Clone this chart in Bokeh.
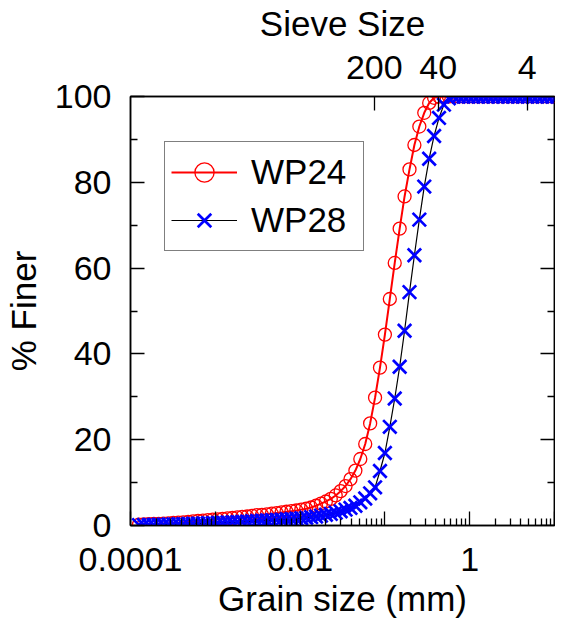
from bokeh.plotting import figure
from bokeh.models import (LogAxis, LinearAxis, FixedTicker, Legend, LegendItem,
                          CustomLabelingPolicy)
from bokeh.embed import file_html
from bokeh.resources import INLINE

# ---- data ----
grain_size_mm = [
    1.259e-04, 1.439e-04, 1.644e-04, 1.879e-04, 2.148e-04, 2.455e-04, 2.805e-04, 3.206e-04,
    3.664e-04, 4.188e-04, 4.786e-04, 5.470e-04, 6.252e-04, 7.145e-04, 8.166e-04, 9.333e-04,
    1.067e-03, 1.219e-03, 1.393e-03, 1.592e-03, 1.820e-03, 2.080e-03, 2.377e-03, 2.716e-03,
    3.105e-03, 3.548e-03, 4.055e-03, 4.634e-03, 5.297e-03, 6.053e-03, 6.918e-03, 7.907e-03,
    9.036e-03, 1.033e-02, 1.180e-02, 1.349e-02, 1.542e-02, 1.762e-02, 2.014e-02, 2.301e-02,
    2.630e-02, 3.006e-02, 3.436e-02, 3.926e-02, 4.487e-02, 5.129e-02, 5.861e-02, 6.699e-02,
    7.656e-02, 8.750e-02, 1.000e-01, 1.143e-01, 1.306e-01, 1.493e-01, 1.706e-01, 1.950e-01,
    2.228e-01, 2.547e-01, 2.911e-01, 3.327e-01, 3.802e-01, 4.345e-01, 4.966e-01, 5.675e-01,
    6.486e-01, 7.413e-01, 8.472e-01, 9.683e-01, 1.107e+00, 1.265e+00, 1.445e+00, 1.652e+00,
    1.888e+00, 2.158e+00, 2.466e+00, 2.818e+00, 3.221e+00, 3.681e+00, 4.207e+00, 4.808e+00,
    5.495e+00, 6.281e+00, 7.178e+00, 8.204e+00, 9.376e+00, 1.072e+01,
]

wp24_finer = [
    0.2, 0.25, 0.3, 0.35, 0.4, 0.45, 0.5, 0.6, 0.65, 0.75, 0.85, 0.95, 1.05, 1.15, 1.25, 1.35,
    1.45, 1.55, 1.65, 1.75, 1.9, 2.0, 2.1, 2.25, 2.4, 2.5, 2.6, 2.75, 2.9, 3.05, 3.2, 3.35,
    3.5, 3.7, 3.9, 4.2, 4.6, 5.1, 5.6, 6.2, 7.0, 8.0, 9.2, 10.8, 12.8, 15.5, 19.0, 23.8,
    29.8, 36.8, 44.5, 52.8, 61.2, 69.2, 76.7, 83.0, 88.7, 93.0, 96.2, 98.5, 99.7, 100, 100, 100,
    100, 100, 100, 100, 100, 100, 100, 100, 100, 100, 100, 100, 100, 100, 100, 100,
    100, 100, 100, 100, 100, 100,
]

wp28_finer = [
    0.1, 0.12, 0.14, 0.16, 0.18, 0.2, 0.23, 0.26, 0.29, 0.32, 0.36, 0.4, 0.44, 0.48, 0.52, 0.56,
    0.6, 0.65, 0.7, 0.75, 0.8, 0.86, 0.92, 0.98, 1.04, 1.1, 1.17, 1.24, 1.31, 1.38, 1.45, 1.52,
    1.6, 1.7, 1.8, 1.95, 2.1, 2.3, 2.5, 2.7, 3.0, 3.3, 3.7, 4.1, 4.6, 5.4, 6.3, 7.5,
    8.9, 12.7, 16.9, 23.0, 29.6, 37.0, 45.4, 54.4, 63.0, 71.3, 79.0, 85.5, 90.8, 95.0, 98.1, 99.6,
    100, 100, 100, 100, 100, 100, 100, 100, 100, 100, 100, 100, 100, 100, 100, 100,
    100, 100, 100, 100, 100, 100,
]

series_names = ["WP24", "WP28"]

x_major_ticks = [1e-4, 1e-3, 1e-2, 1e-1, 1, 10]
x_tick_labels = ["0.0001", "", "0.01", "", "1", ""]
sieve_sizes_mm = [0.075, 0.425, 4.75]
sieve_labels = ["200", "40", "4"]
y_major_ticks = [0, 20, 40, 60, 80, 100]
y_minor_ticks = [10, 30, 50, 70, 90]

x_title = "Grain size (mm)"
y_title = "% Finer"
top_title = "Sieve Size"

FONT = "Liberation Sans"
X_LO, X_HI = 1e-4, 10

p = figure(width=555, height=620, x_axis_type="log",
           x_range=(X_LO, X_HI), y_range=(0, 100),
           output_backend="svg", toolbar_location=None,
           min_border_left=130, min_border_right=1,
           min_border_top=93, min_border_bottom=95)
p.xgrid.visible = False
p.ygrid.visible = False
p.outline_line_color = "black"
p.outline_line_width = 1.5
p.background_fill_color = "white"
p.border_fill_color = "white"

x_minor = [m * d for d in [1e-4, 1e-3, 1e-2, 1e-1, 1] for m in range(2, 10)]

# drop labels that are empty (unlabelled major ticks)
hide_empty = CustomLabelingPolicy(code="""
const keep = []
for (const i of indices) {
  if (bboxes[i].width > 0.5) keep.push(i)
}
return keep
""")


def style_axis(ax):
    ax.axis_line_color = "black"
    ax.axis_line_width = 1.5
    ax.major_tick_in = 14
    ax.major_tick_out = 0
    ax.minor_tick_in = 7
    ax.minor_tick_out = 0
    ax.major_tick_line_color = "black"
    ax.minor_tick_line_color = "black"
    ax.major_tick_line_width = 1.3
    ax.minor_tick_line_width = 1.3
    ax.major_label_text_font = FONT
    ax.major_label_text_font_size = "34px"
    ax.major_label_text_color = "black"
    ax.axis_label_text_font = FONT
    ax.axis_label_text_font_size = "35px"
    ax.axis_label_text_font_style = "normal"
    ax.axis_label_text_color = "black"


# bottom axis
xb = p.xaxis[0]
xb.ticker = FixedTicker(ticks=x_major_ticks, minor_ticks=x_minor)
xb.major_label_overrides = dict(zip(x_major_ticks, x_tick_labels))
xb.major_label_policy = hide_empty
xb.axis_label = x_title
style_axis(xb)
xb.major_label_standoff = 22
xb.axis_label_standoff = 5

# left axis
yl = p.yaxis[0]
yl.ticker = FixedTicker(ticks=y_major_ticks, minor_ticks=y_minor_ticks)
yl.axis_label = y_title
style_axis(yl)
yl.major_label_standoff = 19
yl.axis_label_standoff = 9

# top axis (sieve numbers)
xt = LogAxis(ticker=FixedTicker(ticks=sieve_sizes_mm, minor_ticks=[]))
xt.major_label_overrides = dict(zip(sieve_sizes_mm, sieve_labels))
xt.axis_label = top_title
style_axis(xt)
xt.major_label_standoff = 18
xt.axis_label_standoff = 10
p.add_layout(xt, "above")

# right axis (ticks only)
yr = LinearAxis(ticker=FixedTicker(ticks=y_major_ticks, minor_ticks=y_minor_ticks),
                fixed_location=X_HI)
style_axis(yr)
yr.major_label_overrides = {t: "" for t in y_major_ticks}
yr.major_label_policy = CustomLabelingPolicy(code="return []")
p.add_layout(yr, "right")

# data
r24_line = p.line(grain_size_mm, wp24_finer, line_color="red", line_width=2)
r24_pts = p.scatter(grain_size_mm, wp24_finer, marker="circle", size=13,
                    fill_color=None, line_color="red", line_width=1.3)
r28_line = p.line(grain_size_mm, wp28_finer, line_color="black", line_width=1.2)
r28_pts = p.scatter(grain_size_mm, wp28_finer, marker="x", size=19,
                    line_color="blue", line_width=2.7)

legend = Legend(items=[
    LegendItem(label=series_names[0], renderers=[r24_line, r24_pts]),
    LegendItem(label=series_names[1], renderers=[r28_line, r28_pts]),
], location=(34, 274))
legend.label_text_font = FONT
legend.label_text_font_size = "35px"
legend.label_text_color = "black"
legend.glyph_width = 66
legend.glyph_height = 48
legend.label_height = 48
legend.label_width = 106
legend.label_standoff = 14
legend.padding = 6
legend.spacing = 0
legend.margin = 0
legend.border_line_color = "black"
legend.border_line_width = 1
legend.background_fill_color = "white"
legend.background_fill_alpha = 1
p.add_layout(legend, "center")

open("out.html", "w").write(file_html(p, INLINE))
